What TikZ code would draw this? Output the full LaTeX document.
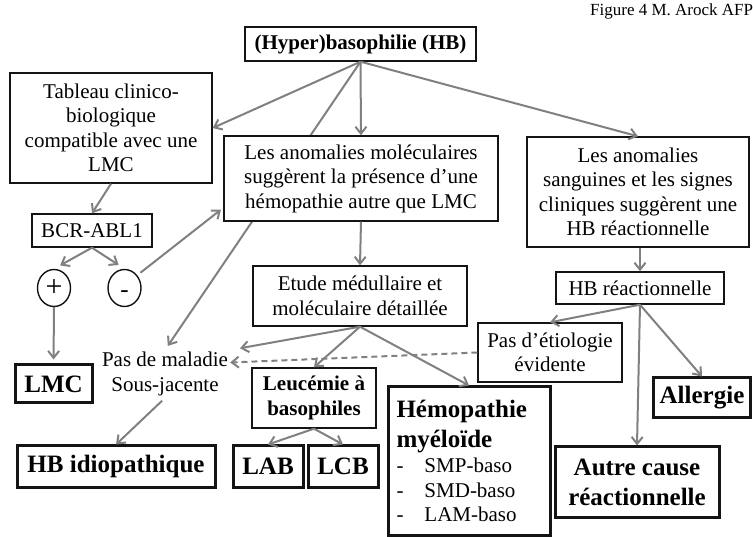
\documentclass[tikz,border=0pt]{standalone}
\usepackage{fontspec}
\setmainfont{Liberation Serif}
\usepackage{tikz}
\usetikzlibrary{arrows.meta, shapes.geometric, backgrounds}
\definecolor{LineGray}{RGB}{128,128,128}
\definecolor{InkBlack}{RGB}{20,20,20}
\newcommand{\bodyfont}{\fontsize{21}{24.5}\selectfont}
\newcommand{\bigbold}{\fontsize{25}{30}\selectfont\bfseries}
\tikzset{
  thinbox/.style={draw=InkBlack, line width=1.4pt, fill=white, inner sep=0pt, align=center, font=\bodyfont},
  thickbox/.style={thinbox, line width=3pt, font=\bigbold},
  signbox/.style={draw=InkBlack, line width=1.4pt, ellipse, inner sep=0pt, minimum width=33pt, minimum height=37pt},
  plaintxt/.style={inner sep=2pt, align=center, font=\bodyfont},
  arr/.style={-{Straight Barb[length=7pt,width=11pt]}, line width=2pt, LineGray},
  dasharr/.style={arr, dash pattern=on 6pt off 4pt},
}

\begin{document}
\begin{tikzpicture}[x=1pt, y=-1pt]
  \useasboundingbox (0,0) rectangle (753,537);
  \node[anchor=base west, inner sep=0pt, font=\fontsize{17}{17}\selectfont] (fig) at (590,16) {Figure 4 M. Arock AFP};

  \node[thinbox, font=\bodyfont\bfseries, minimum width=231pt, minimum height=34pt] (hb) at (360.5,44) {(Hyper)basophilie (HB)};
  \node[thinbox, minimum width=202pt, minimum height=110pt] (tab) at (111,128) {Tableau clinico-\\biologique\\compatible avec une\\LMC};
  \node[thinbox, minimum width=274pt, minimum height=85pt] (mol) at (361,178.5) {Les anomalies moléculaires\\suggèrent la présence d’une\\hémopathie autre que LMC};
  \node[thinbox, minimum width=222pt, minimum height=110pt] (sang) at (638,192) {Les anomalies\\sanguines et les signes\\cliniques suggèrent une\\HB réactionnelle};
  \node[thinbox, minimum width=120pt, minimum height=33pt] (bcr) at (92,230.5) {BCR-ABL1};
  \node[signbox, font=\fontsize{30}{30}\selectfont] (plus) at (54,288) {+};
  \node[signbox, font=\fontsize{25}{25}\selectfont] (minus) at (124.5,288) {\smash{\raisebox{-10pt}{-}}};
  \node[thinbox, minimum width=214pt, minimum height=60pt] (etude) at (360,296) {Etude médullaire et\\moléculaire détaillée};
  \node[thinbox, minimum width=168pt, minimum height=32pt] (hbr) at (640,288) {HB réactionnelle};
  \node[thinbox, minimum width=144pt, minimum height=59pt] (pase) at (550,352.5) {Pas d’étiologie\\évidente};
  \node[plaintxt] (pasm) at (165,374) {Pas de maladie\\Sous-jacente};
  \node[thickbox, minimum width=77pt, minimum height=38pt] (lmc) at (53.5,384) {LMC};
  \node[thinbox, font=\bodyfont\bfseries, minimum width=124pt, minimum height=60pt] (leuc) at (314,398) {Leucémie à\\basophiles};
  \node[thickbox, font=\bodyfont, minimum width=162pt, minimum height=148pt, text width=145pt, align=left] (hemo) at (469,461)
    {\bigbold Hémopathie\\myéloïde\\[1pt]\bodyfont\mdseries\makebox[28pt][l]{-}SMP-baso\\\makebox[28pt][l]{-}SMD-baso\\\makebox[28pt][l]{-}LAM-baso};
  \node[thickbox, minimum width=97pt, minimum height=40pt] (allergie) at (702,398) {Allergie};
  \node[thickbox, minimum width=198pt, minimum height=41pt] (hbi) at (116,466.5) {HB idiopathique};
  \node[thickbox, minimum width=70pt, minimum height=41pt] (lab) at (268,466.5) {LAB};
  \node[thickbox, minimum width=70pt, minimum height=41pt] (lcb) at (343,466.5) {LCB};
  \node[thickbox, minimum width=164pt, minimum height=70pt] (autre) at (637,482) {Autre cause\\réactionnelle};

  \begin{scope}[on background layer]
    \draw[arr, shorten >=5pt] (hb.south) -- (pasm.north);
  \end{scope}
  \draw[arr] (hb.south) -- (tab.east);
  \draw[arr] (hb.south) -- (mol.north);
  \draw[arr] (hb.south) -- (sang.north);
  \draw[arr] (tab.south) -- (bcr.north);
  \draw[arr, shorten >=7pt] (bcr.south) -- (plus.north);
  \draw[arr, shorten >=7pt] (bcr.south) -- (minus.north);
  \draw[arr, shorten <=4pt, shorten >=3pt] (minus.45) -- (mol.192);
  \draw[arr, shorten >=4pt] (plus.south) -- (lmc.north);
  \draw[arr] (mol.south) -- (etude.north);
  \draw[arr, shorten >=10pt] (etude.south) -- (pasm.north east);
  \draw[arr] (etude.south) -- (leuc.north);
  \draw[arr] (etude.south) -- (hemo.north);
  \draw[dasharr] (pase.west) -- (pasm.10);
  \draw[arr] (hbr.north |- sang.south) -- (hbr.north);
  \draw[arr] (hbr.south) -- (pase.north);
  \draw[arr] (hbr.south) -- (autre.north);
  \draw[arr] (hbr.south) -- (allergie.north);
  \draw[arr, shorten <=4pt] (pasm.south) -- (hbi.north);
  \draw[arr] (leuc.south) -- (lab.north);
  \draw[arr] (leuc.south) -- (lcb.north);
\end{tikzpicture}
\end{document}
